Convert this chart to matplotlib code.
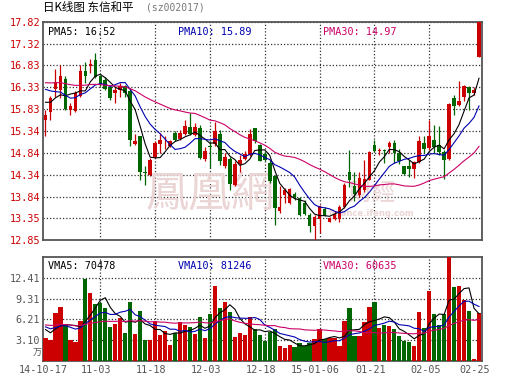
import matplotlib.pyplot as plt
import matplotlib.transforms as mtransforms
import numpy as np
import pandas as pd

plt.rcParams['font.family'] = ['DejaVu Sans Mono']

# daily K-line, 14-10-17 .. 02-25 (88 trading bars)
open_ = [15.58, 15.76, 16.30, 16.28, 16.53, 15.82, 15.78, 16.13, 16.70, 16.81,
         16.96, 16.58, 16.50, 16.34, 16.19, 16.28, 16.37, 16.24, 15.04, 15.21,
         14.39, 14.34, 14.74, 15.04, 15.03, 15.00, 15.30, 15.15, 15.27, 15.43,
         15.25, 15.40, 14.69, 15.00, 15.04, 15.27, 14.53, 14.69, 14.11, 14.59,
         14.69, 14.79, 15.40, 15.01, 14.81, 14.60, 14.30, 13.50, 13.88, 13.69,
         13.90, 13.80, 13.70, 13.42, 13.17, 13.32, 13.55, 13.27, 13.32, 13.32,
         13.60, 14.41, 14.09, 13.88, 13.99, 14.22, 15.02, 14.88, 14.91, 14.97,
         15.07, 14.83, 14.53, 14.54, 14.47, 14.62, 15.07, 14.95, 15.12, 15.02,
         14.85, 14.69, 16.09, 15.93, 16.10, 16.34, 16.19, 17.02]
high = [15.81, 16.14, 16.75, 16.85, 16.58, 15.97, 16.24, 16.85, 16.90, 16.98,
        17.12, 16.62, 16.56, 16.38, 16.34, 16.44, 16.39, 16.31, 15.27, 15.23,
        14.53, 14.72, 15.10, 15.29, 15.23, 15.13, 15.33, 15.36, 15.59, 15.75,
        15.52, 15.48, 14.98, 15.10, 15.55, 15.36, 14.83, 14.75, 14.65, 14.79,
        14.87, 15.39, 15.41, 15.04, 14.85, 14.68, 14.33, 14.07, 14.03, 14.03,
        13.95, 13.84, 13.76, 13.46, 13.42, 13.65, 13.60, 13.38, 13.50, 13.65,
        14.14, 14.91, 14.41, 14.41, 14.68, 14.87, 15.14, 14.95, 14.93, 15.10,
        15.12, 14.92, 14.54, 14.68, 14.64, 15.21, 15.21, 15.59, 15.48, 15.44,
        14.91, 15.97, 16.16, 16.47, 16.39, 16.37, 16.34, 17.82]
low = [15.23, 15.59, 16.11, 16.09, 15.82, 15.69, 15.77, 16.11, 16.43, 16.66,
       16.54, 16.36, 16.28, 16.05, 15.97, 16.10, 16.12, 15.00, 15.02, 14.22,
       14.11, 14.31, 14.72, 14.83, 14.92, 14.98, 15.10, 15.12, 15.25, 15.25,
       15.21, 14.69, 14.66, 14.49, 15.00, 14.55, 14.49, 13.99, 14.08, 14.41,
       14.68, 14.77, 15.06, 14.64, 14.65, 14.15, 13.19, 13.47, 13.69, 13.67,
       13.76, 13.40, 13.42, 13.04, 12.86, 13.00, 13.40, 13.25, 13.31, 13.25,
       13.57, 14.05, 13.73, 13.84, 13.95, 14.21, 14.85, 14.78, 14.60, 14.83,
       14.60, 14.59, 14.34, 14.28, 14.26, 14.60, 14.83, 14.90, 14.83, 14.79,
       14.24, 14.68, 15.71, 15.91, 16.01, 15.82, 16.16, 17.02]
close = [15.71, 16.09, 16.45, 16.60, 15.84, 15.91, 16.20, 16.70, 16.60, 16.87,
         16.57, 16.40, 16.30, 16.09, 16.28, 16.37, 16.20, 15.14, 15.11, 14.39,
         14.37, 14.68, 15.07, 15.13, 15.05, 15.10, 15.12, 15.29, 15.45, 15.27,
         15.43, 14.73, 14.88, 14.97, 15.33, 14.64, 14.74, 14.12, 14.59, 14.68,
         14.81, 15.27, 15.10, 14.66, 14.68, 14.20, 13.57, 13.60, 13.98, 14.02,
         13.80, 13.42, 13.44, 13.17, 13.37, 13.63, 13.42, 13.36, 13.44, 13.61,
         14.11, 14.21, 13.90, 14.26, 14.24, 14.85, 14.88, 14.90, 14.87, 15.07,
         14.83, 14.64, 14.36, 14.47, 14.62, 15.10, 14.92, 15.21, 14.98, 14.85,
         14.68, 15.96, 15.90, 16.03, 16.37, 16.19, 16.28, 17.82]
# volume, 万
volume = [3.45, 3.2, 7.1, 8.1, 5.3, 3.1, 2.9, 5.9, 12.2, 10.1,
          8.45, 8.6, 7.85, 5.0, 5.45, 6.35, 4.25, 8.75, 4.1, 7.4,
          3.1, 3.1, 5.9, 3.95, 4.45, 2.45, 4.2, 5.75, 5.3, 5.0,
          4.1, 6.5, 3.5, 6.95, 11.15, 7.85, 8.75, 7.25, 3.65, 4.25,
          3.85, 6.5, 4.7, 3.95, 2.95, 4.3, 4.7, 2.3, 1.9, 2.45,
          2.05, 2.7, 2.2, 2.7, 3.35, 4.7, 3.3, 3.45, 3.45, 2.3,
          5.95, 7.85, 3.7, 3.8, 5.8, 8.05, 8.8, 4.85, 5.4, 5.2,
          4.7, 3.8, 2.95, 2.8, 2.3, 7.3, 4.85, 10.45, 7.0, 5.4,
          7.0, 15.6, 11.1, 11.2, 9.1, 7.5, 0.35, 7.1]

# sessions before the window (estimated from where the MA lines start)
prev_close = [16.20, 16.35, 16.48, 16.62, 16.55, 16.70, 16.64, 16.52, 16.40, 16.45,
              16.58, 16.66, 16.50, 16.42, 16.55, 16.60, 16.48, 16.52, 16.46, 16.52,
              16.45, 16.62, 16.70, 16.55, 16.58, 16.09, 15.95, 16.25, 15.95]
prev_volume = [5.2, 6.1, 5.8, 4.9, 5.4, 6.3, 5.0, 5.7, 5.9, 5.2,
               4.8, 6.0, 5.6, 5.3, 5.9, 5.5, 5.1, 6.2, 5.4, 5.1,
               6.2, 5.1, 5.8, 4.9, 5.5, 5.6, 4.2, 5.8, 4.4]

date_labels = ['14-10-17', '11-03', '11-18', '12-03', '12-18', '15-01-06', '01-21', '02-05', '02-25']
date_pos = [0, 11, 22, 33, 44, 55, 66, 77, 87]
price_ticks = [12.85, 13.35, 13.84, 14.34, 14.84, 15.34, 15.83, 16.33, 16.83, 17.32, 17.82]
vol_ticks = [3.10, 6.21, 9.31, 12.41]

ma_windows = [5, 10, 30]
ma_colors = ['black', '#0000b0', '#cc0066']
pma_text = ['16.52', '15.89', '14.97']
vma_text = ['70478', '81246', '60635']

o = np.array(open_)
c = np.array(close)
n = len(c)
x = np.arange(n)
colors = np.where(c >= o, '#cc0000', '#006600')

fig = plt.figure(figsize=(5.3, 3.91), dpi=100)
ax = fig.add_axes([43/530, 1-240/391, 439/530, 218/391])
axv = fig.add_axes([43/530, 1-361/391, 439/530, 104/391])

grid_x = date_pos[1:-1]
for a in (ax, axv):
    a.set_xlim(-0.5, 87.6)
    a.set_xticks(grid_x)
    a.tick_params(length=0, labelbottom=False, pad=2, labelsize=7.3)
    a.grid(True, linestyle=(0, (1, 1.6)), color='#333333', linewidth=0.9)
    a.set_axisbelow(True)
    for s in a.spines.values():
        s.set_color('#555555')
        s.set_linewidth(1.3)

# watermark
ax.text(33, 13.88, '鳳凰網', family='Noto Sans CJK TC', fontsize=31, color='#ebd5d5',
        ha='center', va='center', zorder=1)
ax.text(65.5, 13.92, '財經', family='Noto Sans CJK TC', fontsize=17, color='#ebd5d5',
        ha='center', va='center', zorder=1)
ax.text(65.5, 13.45, 'finance.ifeng.com', family='DejaVu Sans', fontsize=6, color='#ebd5d5',
        ha='center', va='center', zorder=1, fontweight='bold')

# candles
ax.vlines(x, low, high, colors=colors, linewidth=0.9, zorder=3)
ax.bar(x, np.maximum(np.abs(c - o), 0.015), bottom=np.minimum(o, c), width=0.72,
       color=colors, linewidth=0, zorder=3)

all_close = pd.Series(prev_close + close)
all_vol = pd.Series(prev_volume + volume)
for w, col in zip(ma_windows, ma_colors):
    ax.plot(x, all_close.rolling(w).mean().values[-n:], color=col, linewidth=0.8, zorder=4)
    axv.plot(x, all_vol.rolling(w).mean().values[-n:], color=col, linewidth=0.8, zorder=4)

ax.set_ylim(12.85, 17.82)
ax.set_yticks(price_ticks)
ax.set_yticklabels(['%.2f' % t for t in price_ticks])
ax.tick_params(axis='y', labelcolor='#cc0000')

axv.bar(x, volume, width=0.86, color=colors, linewidth=0, zorder=3)
axv.set_ylim(0, 15.51)
axv.set_yticks(vol_ticks)
axv.set_yticklabels(['%.2f' % t for t in vol_ticks])
axv.tick_params(axis='y', labelcolor='#555555')

# legends
leg_x = [0.012, 0.307, 0.637]
for i, w in enumerate(ma_windows):
    ax.text(leg_x[i], 0.952, 'PMA%d: %s' % (w, pma_text[i]), transform=ax.transAxes,
            color=ma_colors[i], fontsize=7.3, va='center', zorder=5)
    axv.text(leg_x[i], 0.91, 'VMA%d: %s' % (w, vma_text[i]), transform=axv.transAxes,
             color=ma_colors[i], fontsize=7.3, va='center', zorder=5)

# date labels
trans = mtransforms.blended_transform_factory(axv.transData, axv.transAxes)
for p, lab in zip(date_pos, date_labels):
    shift = -0.4 if p == 0 else -0.8
    axv.text(p + shift, -0.085, lab, transform=trans, ha='center', va='center',
             color='#555555', fontsize=7.3, clip_on=False)

fig.text(42/530, 1-353/391, '万', family='Noto Sans CJK SC', fontsize=6.5,
         color='#555555', ha='right', va='center')
fig.text(43/530, 1-7/391, '日K线图 东信和平', family='Noto Sans CJK SC', fontsize=8.3,
         color='black', va='center')
fig.text(146/530, 1-7.5/391, '(sz002017)', fontsize=7, color='#777777', va='center')

fig.savefig('out.png', dpi=100)
